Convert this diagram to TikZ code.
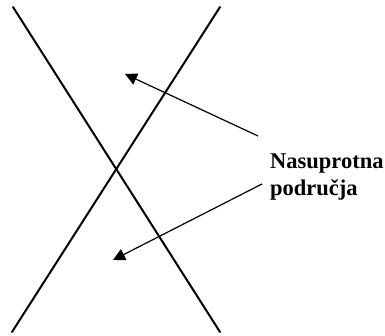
\documentclass[tikz,border=0pt]{standalone}
\usepackage{fontspec}
\setmainfont{Liberation Serif}
\usetikzlibrary{arrows.meta}

\begin{document}
\begin{tikzpicture}[x=1pt,y=-1pt,edge/.style={line width=2pt,line cap=round},pointer/.style={-{Triangle[length=12pt,width=12pt]},line width=1.2pt},caption/.style={font=\bfseries\fontsize{22.5}{27.5}\selectfont,align=left,inner sep=0pt}]
\useasboundingbox (0,0) rectangle (385,336);
\coordinate (tl) at (13,7);\coordinate (br) at (220,332);
\coordinate (tr) at (220,7);\coordinate (bl) at (12,332);
\draw[edge] (tl) -- (br);\draw[edge] (tr) -- (bl);
\node[caption,anchor=base west] (lbl) at (270,196) {Nasuprotna\\područja};
\coordinate (tailup) at (258,136);\coordinate (taildown) at (262,184);
\coordinate (up) at (125,74);\coordinate (down) at (113,260);
\draw[pointer] (tailup) -- (up);\draw[pointer] (taildown) -- (down);
\end{tikzpicture}
\end{document}
